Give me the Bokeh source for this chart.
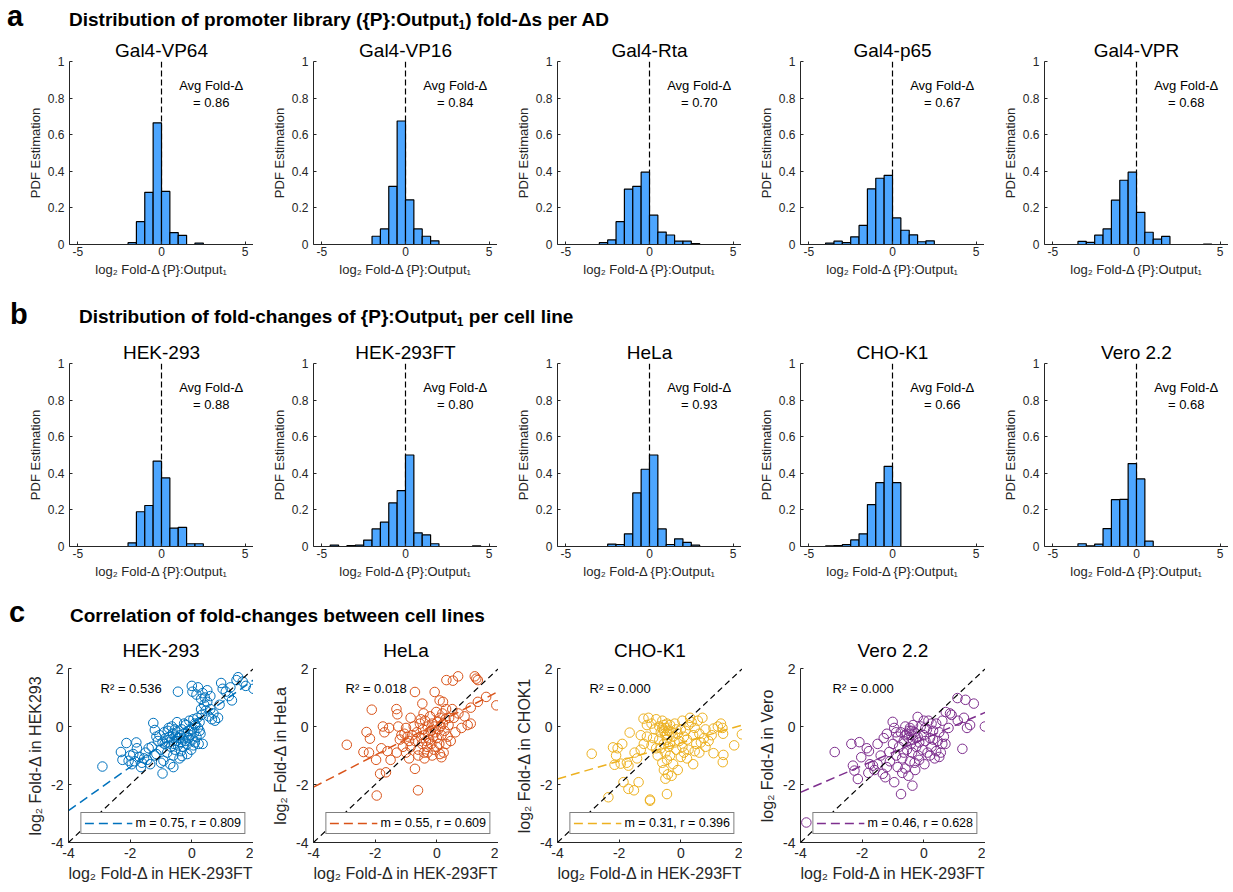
from bokeh.plotting import figure
from bokeh.layouts import column, row
from bokeh.models import (Div, Range1d, FixedTicker, Legend, LegendItem, Span, Label,
                          Slope, CustomJSTickFormatter)
from bokeh.embed import file_html
from bokeh.resources import INLINE

FONT = "Liberation Sans"
TXT = "#262626"

# ---------------- data ----------------
bin_left = [-5.0, -4.5, -4.0, -3.5, -3.0, -2.5, -2.0, -1.5, -1.0, -0.5,
            0.0, 0.5, 1.0, 1.5, 2.0, 2.5, 3.0, 3.5, 4.0, 4.5]
bin_width = 0.5

ad_names = ["Gal4-VP64", "Gal4-VP16", "Gal4-Rta", "Gal4-p65", "Gal4-VPR"]
pdf_vp64 = [0, 0, 0, 0, 0, 0, 0.010, 0.125, 0.285, 0.665, 0.290, 0.065, 0.050, 0, 0.008, 0, 0, 0, 0, 0]
pdf_vp16 = [0, 0, 0, 0, 0, 0, 0.045, 0.085, 0.318, 0.675, 0.244, 0.085, 0.045, 0.020, 0, 0, 0, 0, 0, 0]
pdf_rta = [0, 0, 0, 0, 0.010, 0.025, 0.125, 0.303, 0.318, 0.395, 0.160, 0.068, 0.052, 0.018, 0.018, 0.005, 0, 0, 0, 0]
pdf_p65 = [0, 0, 0.008, 0.018, 0.010, 0.042, 0.104, 0.304, 0.362, 0.378, 0.145, 0.078, 0.053, 0.015, 0.020, 0, 0, 0, 0, 0]
pdf_vpr = [0, 0, 0, 0.017, 0.012, 0.051, 0.085, 0.242, 0.351, 0.395, 0.176, 0.067, 0.029, 0.044, 0, 0, 0, 0, 0.002, 0]
ad_pdfs = [pdf_vp64, pdf_vp16, pdf_rta, pdf_p65, pdf_vpr]
ad_avg = [0.86, 0.84, 0.70, 0.67, 0.68]

cell_names = ["HEK-293", "HEK-293FT", "HeLa", "CHO-K1", "Vero 2.2"]
pdf_hek293 = [0, 0, 0, 0, 0, 0, 0.020, 0.190, 0.224, 0.467, 0.375, 0.100, 0.105, 0.015, 0.015, 0, 0, 0, 0, 0]
pdf_hek293ft = [0, 0.008, 0, 0.005, 0.008, 0.035, 0.096, 0.133, 0.238, 0.305, 0.500, 0.075, 0.064, 0.015, 0, 0, 0, 0, 0.003, 0]
pdf_hela = [0, 0, 0, 0, 0, 0.013, 0.011, 0.069, 0.293, 0.422, 0.500, 0.096, 0.011, 0.042, 0.022, 0.007, 0, 0, 0, 0]
pdf_chok1 = [0, 0, 0.003, 0.005, 0.010, 0.036, 0.069, 0.229, 0.349, 0.438, 0.349, 0, 0, 0, 0, 0, 0, 0, 0, 0]
pdf_vero = [0, 0, 0, 0.015, 0.003, 0.013, 0.098, 0.256, 0.258, 0.453, 0.369, 0.029, 0, 0, 0, 0, 0, 0, 0, 0]
cell_pdfs = [pdf_hek293, pdf_hek293ft, pdf_hela, pdf_chok1, pdf_vero]
cell_avg = [0.88, 0.80, 0.93, 0.66, 0.68]

corr_titles = ["HEK-293", "HeLa", "CHO-K1", "Vero 2.2"]
corr_ylabels = ["HEK293", "HeLa", "CHOK1", "Vero"]
corr_slope = [0.75, 0.55, 0.31, 0.46]
corr_intercept = [0.10, 0.11, -0.57, -0.43]
corr_r = [0.809, 0.609, 0.396, 0.628]
corr_r2 = [0.536, 0.018, 0.000, 0.000]
corr_colors = ["#0072BD", "#D95319", "#EDB120", "#7E2F8E"]

pts_hek293 = [
    (-2.9, -1.38), (-2.3, -0.88), (-2.25, -1.15), (-2.12, -0.57), (-2.05, -1.18), (-2.0, -1.0),
    (-1.95, -1.3), (-1.9, -0.95), (-1.85, -1.2), (-1.8, -0.55), (-1.78, -0.75), (-1.7, -1.05),
    (-1.65, -1.4), (-1.62, -1.25), (-1.55, -1.1), (-1.5, -0.9), (-1.45, -1.15), (-1.4, -0.75),
    (-1.35, -1.3), (-1.3, -0.7), (-1.25, 0.12), (-1.2, -0.12), (-1.15, -0.95), (-1.1, -0.5),
    (-1.05, -0.3), (-1.0, -0.8), (-0.95, -1.62), (-0.92, -1.18), (-0.9, -0.2), (-0.88, -0.6),
    (-0.85, -0.4), (-0.8, -0.9), (-0.78, -0.15), (-0.75, -0.55), (-0.72, -0.35), (-0.7, -1.3),
    (-0.68, -0.7), (-0.65, -0.45), (-0.62, -0.25), (-0.6, -1.4), (-0.58, -0.6), (-0.55, -0.8),
    (-0.52, -0.35), (-0.5, -0.5), (-0.48, 0.15), (-0.47, -0.2), (-0.45, 1.2), (-0.45, -0.65),
    (-0.42, -0.4), (-0.4, -1.1), (-0.38, -0.3), (-0.35, -0.55), (-0.33, -0.1), (-0.32, -1.02),
    (-0.3, -0.45), (-0.28, -0.7), (-0.25, -0.25), (-0.22, -0.5), (-0.2, 0.05), (-0.18, -0.35),
    (-0.15, -0.6), (-0.12, -0.15), (-0.1, -0.4), (-0.08, 0.2), (-0.05, -0.3), (-0.02, -0.8),
    (0.0, -0.1), (0.02, -0.45), (0.05, 0.25), (0.08, -0.2), (0.1, -0.55), (0.12, 0.05),
    (0.15, -0.35), (0.18, 0.3), (0.2, -0.05), (0.22, -0.6), (0.25, 0.15), (0.28, -0.25),
    (0.3, 0.6), (0.32, 0.4), (0.35, -0.6), (0.0, 1.4), (0.02, 1.2), (0.15, 1.1), (0.2, 1.35),
    (0.3, 0.95), (0.35, 1.15), (0.4, 0.75), (0.42, 1.0), (0.45, 0.55), (0.5, 0.85), (0.55, 0.35),
    (0.6, 0.6), (0.65, 0.25), (0.7, 0.45), (0.75, 0.2), (0.5, 1.25), (0.6, 1.05), (0.95, 1.5),
    (1.1, 1.2), (1.2, 1.05), (1.25, 1.35), (1.3, 0.9), (1.5, 1.7), (1.45, 1.6), (1.65, 1.55),
    (1.75, 1.4), (2.0, 1.3), (0.85, 0.3), (0.9, 0.75), (1.0, 1.3), (-0.6, -1.0), (-1.0, -1.25),
    (-1.2, -1.0), (-0.75, -0.05), (-0.55, -0.1), (-0.35, -0.85), (-0.15, -0.95), (0.05, -0.65),
    (-1.15, -0.35), (-0.95, -0.55), (-0.65, 0.0), (-0.25, 0.1), (0.1, 0.1), (0.25, -0.15),
]

pts_hela = [
    (-2.92, -0.63), (-2.38, -0.88), (-2.11, 0.58), (-2.17, -0.42), (-2.28, -0.19), (-2.2, -0.9),
    (-1.97, -1.15), (-1.95, -2.38), (-1.84, -1.63), (-1.65, -1.58), (-1.75, 0.0), (-1.7, -0.2),
    (-1.55, -0.05), (-1.8, -0.75), (-1.6, -0.85), (-1.5, -1.15), (-1.31, 0.6), (-1.28, 0.42),
    (-1.25, 0.0), (-1.2, -0.45), (-1.1, -0.7), (-1.05, -0.25), (-1.3, -0.9), (-1.0, -0.05),
    (-0.71, 1.19), (-0.61, -2.2), (-0.71, -1.46), (-0.47, 0.79), (-0.43, 0.45), (-0.07, 1.19),
    (0.09, 0.9), (0.2, 0.85), (0.31, 1.6), (0.52, 1.58), (0.69, 1.73), (1.23, 1.73), (1.28, 1.65),
    (1.33, 1.6), (1.93, 0.73), (1.6, 1.02), (1.33, 0.85), (1.1, 0.65), (1.0, 0.05), (1.1, 0.1),
    (0.8, -0.05), (0.15, -1.06), (0.1, -0.95), (0.5, 0.6), (0.55, 0.3), (0.7, 0.45), (0.9, 0.35),
    (0.45, -0.5), (0.3, -0.6), (0.6, -0.2), (-0.9, -1.1), (-0.85, 0.3), (-0.8, -0.3),
    (-0.7, -0.5), (-0.65, -0.2), (-0.6, -0.8), (-0.55, 0.1), (-0.5, -0.4), (-0.48, -0.6),
    (-0.45, -0.1), (-0.42, -0.9), (-0.4, -0.3), (-0.38, 0.2), (-0.35, -0.5), (-0.32, -0.7),
    (-0.3, 0.0), (-0.28, -0.25), (-0.25, -0.45), (-0.22, 0.35), (-0.2, -0.15), (-0.18, -0.6),
    (-0.15, 0.1), (-0.12, -0.35), (-0.1, -0.8), (-0.08, 0.0), (-0.05, -0.2), (-0.02, 0.5),
    (0.0, -0.4), (0.02, 0.15), (0.05, -0.1), (0.08, -0.6), (0.1, 0.3), (0.12, 0.0), (0.15, -0.3),
    (0.18, 0.45), (0.2, 0.1), (0.25, -0.15), (0.28, 0.25), (0.3, 0.6), (0.35, -0.35), (0.38, 0.05),
    (0.4, 0.3), (-0.75, 0.0), (-0.9, -0.5), (-0.95, -0.35), (-0.6, -1.0), (-0.52, 0.25),
    (-0.4, -1.1), (-0.3, -0.9), (-0.15, -1.0), (0.0, -0.7), (0.22, -0.9), (-1.0, -0.9),
    (-1.15, -0.3), (-0.85, -0.7),
]

pts_chok1 = [
    (-2.89, -0.94), (-2.35, -2.44), (-2.2, -0.72), (-2.1, -1.0), (-2.05, -0.75), (-2.15, -1.32),
    (-1.95, -1.28), (-1.75, -1.25), (-1.7, -1.35), (-1.86, -1.92), (-1.7, -2.15), (-1.52, -2.2),
    (-1.66, -0.21), (-1.37, -1.92), (-1.42, -1.1), (-1.3, -0.8), (-1.2, -0.6), (-1.21, 0.27),
    (-1.05, 0.3), (-1.0, -2.56), (-1.0, -2.52), (-0.45, -2.33), (-0.5, -1.8), (-0.42, -1.65),
    (-0.55, -1.5), (-0.6, -1.25), (-0.45, -1.15), (-0.3, -1.7), (-1.1, 0.05), (-0.95, 0.1),
    (-0.85, -0.1), (-0.8, 0.25), (-0.7, 0.0), (-0.6, 0.2), (-0.55, 0.05), (-0.5, -0.05),
    (-0.45, 0.1), (-0.4, -0.15), (-0.35, 0.05), (-0.5, -0.3), (-0.45, -0.45), (-0.55, -0.6),
    (-0.4, -0.7), (-0.5, -0.9), (-0.35, -1.0), (-0.25, -0.35), (-0.2, -0.55), (-0.15, -0.8),
    (-0.1, -0.25), (-0.05, -0.5), (0.0, -0.1), (0.05, -0.7), (0.1, -0.35), (0.15, -0.15),
    (0.2, -0.45), (0.25, -0.8), (0.3, 0.3), (0.35, 0.15), (0.4, -0.3), (0.45, -0.05), (0.5, -0.6),
    (0.55, 0.2), (0.6, -0.25), (0.7, 0.3), (0.75, -0.4), (0.8, -0.1), (0.9, -0.5), (1.0, -0.3),
    (1.06, -0.07), (1.2, 0.0), (1.3, 0.1), (1.35, -0.05), (1.37, -0.25), (1.06, -0.92),
    (1.38, -0.98), (1.36, -1.23), (1.73, -0.65), (1.98, -0.27), (-0.9, -0.4), (-0.8, -0.75),
    (-0.75, -1.0), (-0.7, -0.45), (-0.65, -0.2), (-0.95, -0.65), (-1.1, -0.35), (-0.3, -0.2),
    (-0.2, 0.1), (0.05, 0.2), (-0.6, -0.05), (-0.25, -1.3), (0.0, -1.05), (0.2, -1.1),
    (-0.1, -1.5), (0.6, -0.9), (0.8, -0.7), (-1.3, -0.3), (-1.5, -0.9), (-1.9, -0.6), (0.4, -1.3),
    (0.1, -0.9), (-0.55, -0.15), (-0.45, -0.25), (-0.35, -0.6), (-0.65, -0.75), (0.25, 0.05),
    (0.45, -0.85), (0.65, -0.55), (-0.15, -0.1),
]

pts_vero = [
    (-3.81, -3.31), (-2.89, -0.88), (-2.35, -0.6), (-2.09, -0.54), (-2.03, -1.06), (-2.25, -1.52),
    (-2.14, -1.81), (-1.85, -0.75), (-1.78, -0.85), (-1.75, -1.3), (-1.65, -1.35), (-1.5, -1.3),
    (-1.6, -1.5), (-1.8, -1.6), (-1.33, -1.63), (-1.25, -1.75), (-1.12, -0.88), (-1.01, 0.16),
    (-0.96, -0.05), (-0.85, -0.35), (-0.96, -1.92), (-0.74, -2.33), (-0.37, -2.04), (-0.2, 0.33),
    (0.71, 0.5), (0.9, 0.4), (1.09, 0.98), (1.35, 0.92), (1.62, 0.79), (1.4, -0.05), (1.5, 0.05),
    (1.98, 0.0), (1.25, -0.77), (1.1, 0.2), (1.3, 0.3), (-1.3, -0.4), (-1.2, -0.25), (-1.1, -1.2),
    (-1.0, -0.6), (-0.9, -1.0), (-0.85, -1.4), (-0.8, -0.7), (-0.75, -0.2), (-0.7, -1.1),
    (-0.65, -0.5), (-0.6, -0.3), (-0.55, -0.8), (-0.5, -0.4), (-0.48, -0.15), (-0.45, -1.2),
    (-0.42, -0.6), (-0.4, -0.3), (-0.38, -0.9), (-0.35, -0.45), (-0.3, -0.2), (-0.28, -1.5),
    (-0.25, -0.7), (-0.2, -0.35), (-0.18, -1.0), (-0.15, -0.55), (-0.1, 0.0), (-0.05, -0.8),
    (0.0, -0.3), (0.02, -1.3), (0.05, -0.5), (0.1, -0.1), (0.12, -0.9), (0.15, 0.2), (0.2, -0.4),
    (0.25, -0.7), (0.3, -0.15), (0.35, -1.1), (0.4, 0.1), (0.45, -0.5), (0.5, -0.2), (0.55, -0.9),
    (0.6, 0.2), (0.65, -0.35), (0.8, -0.05), (0.85, 0.45), (-0.6, -1.45), (-0.3, -1.25),
    (0.2, -1.0), (0.4, -0.85), (-0.7, -1.6), (-0.5, -1.7), (-1.4, -1.0), (-1.2, -1.4), (-0.9, -0.2),
    (-0.6, 0.0), (-0.35, 0.05), (0.0, 0.2), (-0.45, -0.05), (0.25, 0.1), (0.7, -0.6), (-1.5, -0.6),
    (-2.3, -1.35), (-0.55, -0.25), (-0.4, -0.15), (-0.25, -0.4), (0.05, -0.05), (0.3, -0.45),
    (-0.65, -0.9), (-0.15, -1.15), (0.5, -1.05), (0.6, -0.6),
]
corr_pts = [pts_hek293, pts_hela, pts_chok1, pts_vero]
x_label_corr = "log₂ Fold-Δ in HEK-293FT"

# ---------------- helpers ----------------
int_fmt = CustomJSTickFormatter(code="return String(tick);")


def style_axes(p, tick_size, label_size, tick_stand, label_stand_x, label_stand_y):
    for ax in (p.xaxis[0], p.yaxis[0]):
        ax.axis_line_color = TXT
        ax.axis_line_width = 1
        ax.major_tick_line_color = TXT
        ax.major_tick_in = 3
        ax.major_tick_out = 0
        ax.minor_tick_line_color = None
        ax.major_label_text_font = FONT
        ax.major_label_text_font_size = tick_size
        ax.major_label_text_color = TXT
        ax.axis_label_text_font = FONT
        ax.axis_label_text_font_size = label_size
        ax.axis_label_text_font_style = "normal"
        ax.axis_label_text_color = TXT
        ax.formatter = int_fmt
    p.xaxis[0].major_label_standoff = tick_stand[0]
    p.yaxis[0].major_label_standoff = tick_stand[1]
    p.xaxis[0].axis_label_standoff = label_stand_x
    p.yaxis[0].axis_label_standoff = label_stand_y
    p.xgrid.visible = False
    p.ygrid.visible = False
    p.outline_line_color = None
    p.background_fill_color = "white"
    p.border_fill_color = "white"
    p.title.text_font = FONT
    p.title.text_font_style = "normal"
    p.title.text_color = "black"
    p.title.align = "center"


def hist_fig(title, pdf, avg, left):
    p = figure(width=left + 184, height=252, x_range=Range1d(-5.5, 5.5), y_range=Range1d(0, 1),
               min_border_left=left, min_border_right=0, min_border_top=27, min_border_bottom=42,
               output_backend="svg", toolbar_location=None, title=title)
    p.title.text_font_size = "19px"
    p.title.standoff = 1
    p.add_layout(Span(location=0, dimension="height", line_color="black", line_dash="6 3",
                      line_width=1.2, level="underlay"))
    right = [l + bin_width for l in bin_left]
    p.quad(left=bin_left, right=right, bottom=0, top=pdf, fill_color="#4DA6FF",
           line_color="black", line_width=1.2)
    for txt, yy in (("Avg Fold-Δ", 0.869), ("= %.2f" % avg, 0.778)):
        p.add_layout(Label(x=2.97, y=yy, text=txt, text_align="center", text_baseline="alphabetic",
                           text_font=FONT, text_font_size="13px", text_color="black"))
    p.xaxis.ticker = FixedTicker(ticks=[-5, 0, 5])
    p.yaxis.ticker = FixedTicker(ticks=[0, 0.2, 0.4, 0.6, 0.8, 1])
    p.xaxis.axis_label = "log₂ Fold-Δ {P}:Output₁"
    p.yaxis.axis_label = "PDF Estimation"
    style_axes(p, "12px", "13px", (2, 5), 3, 2)
    return p


def corr_fig(title, pts, ylab, color, m, b, r, r2, left):
    xs = [q[0] for q in pts]
    ys = [q[1] for q in pts]
    xlo, xhi = -4, 2
    p = figure(width=left + 185, height=264, x_range=Range1d(xlo, xhi), y_range=Range1d(-4, 2),
               min_border_left=left, min_border_right=0, min_border_top=40, min_border_bottom=50,
               output_backend="svg", toolbar_location=None, title=title)
    p.title.text_font_size = "19px"
    p.title.standoff = 15
    p.scatter(xs, ys, marker="circle", size=9.5, fill_color=None, line_color=color, line_width=1)
    p.add_layout(Slope(gradient=1, y_intercept=0, line_color="black", line_dash="6 4", line_width=1.2))
    fit = p.line(x=[xlo, xhi], y=[m * xlo + b, m * xhi + b], line_color=color,
                 line_dash="9 5", line_width=1.5)
    p.add_layout(Label(x=-2.96, y=1.31, text="R² = %.3f" % r2, text_baseline="alphabetic",
                       text_font=FONT, text_font_size="13px", text_color="black"))
    leg = Legend(items=[LegendItem(label="m = %.2f, r = %.3f" % (m, r), renderers=[fit])],
                 location="bottom_right", margin=8, padding=3, spacing=0,
                 glyph_width=48, glyph_height=14, label_height=14, label_standoff=3,
                 label_text_font=FONT, label_text_font_size="12.5px", label_text_color="black",
                 border_line_color="black", border_line_width=1, background_fill_alpha=1)
    p.add_layout(leg)
    p.xaxis.ticker = FixedTicker(ticks=[-4, -2, 0, 2])
    p.yaxis.ticker = FixedTicker(ticks=[-4, -2, 0, 2])
    p.xaxis.axis_label = x_label_corr
    p.yaxis.axis_label = "log₂ Fold-Δ in " + ylab
    style_axes(p, "14px", "16px", (5, 5), 4, 4)
    return p


def header(letter, text, height, letter_top, letter_left, text_top, text_left):
    html = (
        '<div style="position:relative;width:1233px;height:%dpx;font-family:\'Liberation Sans\',Arial,sans-serif;color:#000;">'
        '<span style="position:absolute;left:%dpx;top:%dpx;font-size:29px;line-height:32px;font-weight:bold;">%s</span>'
        '<span style="position:absolute;left:%dpx;top:%dpx;font-size:19px;line-height:19px;font-weight:bold;white-space:nowrap;">%s</span>'
        '</div>' % (height, letter_left, letter_top, letter, text_left, text_top, text)
    )
    return Div(text=html, width=1233, height=height, margin=0)


hist_lefts = [69, 60, 60, 59, 60]
corr_lefts = [68, 60, 59, 58]

row_a = row([hist_fig(ad_names[i], ad_pdfs[i], ad_avg[i], hist_lefts[i]) for i in range(5)])
row_b = row([hist_fig(cell_names[i], cell_pdfs[i], cell_avg[i], hist_lefts[i]) for i in range(5)])
row_c = row([corr_fig(corr_titles[i], corr_pts[i], corr_ylabels[i], corr_colors[i], corr_slope[i],
                      corr_intercept[i], corr_r[i], corr_r2[i], corr_lefts[i]) for i in range(4)])

sub1 = '<sub style="font-size:12px;vertical-align:-3px;line-height:0;">1</sub>'
head_a = header("a", "Distribution of promoter library ({P}:Output" + sub1 + ") fold-Δs per AD",
                34, 0, 7, 10, 69)
head_b = header("b", "Distribution of fold-changes of {P}:Output" + sub1 + " per cell line",
                50, 12, 10, 21, 79)
head_c = header("c", "Correlation of fold-changes between cell lines", 40, 8, 9, 18, 70)

layout = column(head_a, row_a, head_b, row_b, head_c, row_c)

open("out.html", "w").write(file_html(layout, INLINE))
